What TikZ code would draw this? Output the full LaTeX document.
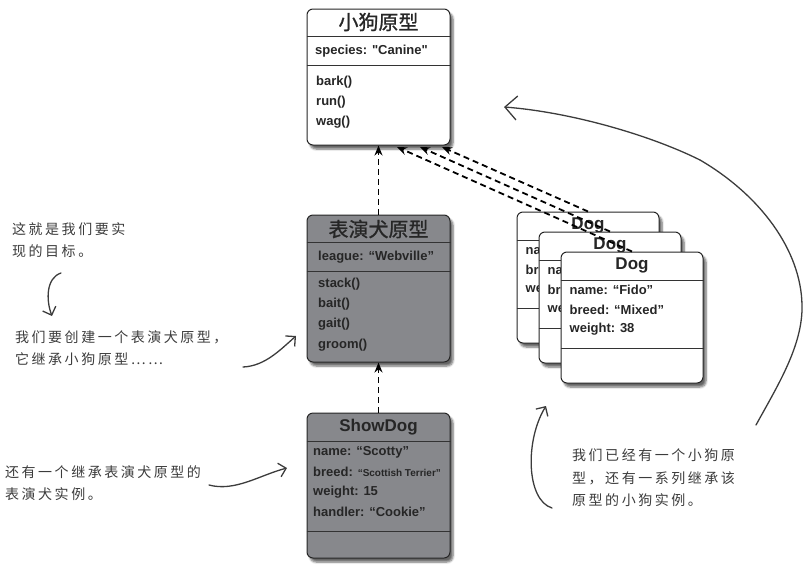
\documentclass[tikz,border=0pt]{standalone}
\usepackage{fontspec}
\setmainfont{Liberation Sans}
\newfontfamily\umlfont{Liberation Sans}
\newfontfamily\cjk[FakeBold=1]{Noto Sans CJK SC}
\newfontfamily\hand[LetterSpace=18]{Noto Sans CJK SC}
\usetikzlibrary{calc,arrows.meta,shadows.blur}
\definecolor{showgray}{RGB}{135,136,140}
\definecolor{ink}{RGB}{60,60,60}
\tikzset{
  umlbox/.style={draw=black!85, line width=1pt, rounded corners=6pt, fill=white, inner sep=0pt,
    blur shadow={shadow xshift=3pt, shadow yshift=-4pt, shadow blur steps=6, shadow opacity=60}},
  divider/.style={draw=black!80, line width=1pt},
  boxtitle/.style={font=\cjk\fontsize{20}{22}\selectfont, text=black!85},
  classname/.style={font=\umlfont\bfseries\fontsize{17}{19}\selectfont, text=black!85, inner sep=0pt},
  field/.style={anchor=west, font=\umlfont\bfseries\fontsize{13}{15}\selectfont, text=black!85, inner sep=0pt},
  note/.style={anchor=north west, align=left, font=\hand\fontsize{14}{22.5}\selectfont, text=ink, inner sep=0pt},
  scrawl/.style={draw=ink, line width=1.3pt, line cap=round, -{Straight Barb[length=7pt,width=14pt]}},
  inherit/.style={dash pattern=on 6pt off 4pt, line width=1.8pt, -{Stealth[length=10pt,width=8pt]}}
}
\begin{document}
\begin{tikzpicture}[x=1pt,y=-1pt]
\useasboundingbox (0,0) rectangle (808,568);

\node[umlbox, minimum width=143pt, minimum height=136pt] (proto) at (378.5,77) {};
\node[boxtitle] (protoname) at (378.5,22) {小狗原型};
\draw[divider] ($(proto.north west)+(0,28)$) -- ($(proto.north east)+(0,28)$);
\node[field] (species) at (315,51) {species: "Canine"};
\draw[divider] ($(proto.north west)+(0,57)$) -- ($(proto.north east)+(0,57)$);
\node[field] (bark) at (316,82) {bark()};
\node[field] (run) at (316,102) {run()};
\node[field] (wag) at (316,122) {wag()};

\node[umlbox, fill=showgray, minimum width=143pt, minimum height=147pt] (perf) at (378.5,288.5) {};
\node[boxtitle] (perfname) at (378.5,229) {表演犬原型};
\draw[divider] ($(perf.north west)+(0,28)$) -- ($(perf.north east)+(0,28)$);
\node[field] (league) at (318,257) {league: “Webville”};
\draw[divider] ($(perf.north west)+(0,57)$) -- ($(perf.north east)+(0,57)$);
\node[field] (stack) at (318,284) {stack()};
\node[field] (bait) at (318,304) {bait()};
\node[field] (gait) at (318,324) {gait()};
\node[field] (groom) at (318,345) {groom()};

\node[umlbox, fill=showgray, minimum width=143pt, minimum height=145pt] (show) at (378.5,485.5) {};
\node[classname] (showname) at (378.5,427) {ShowDog};
\draw[divider] ($(show.north west)+(0,29)$) -- ($(show.north east)+(0,29)$);
\node[field] (scotty) at (313,452) {name: “Scotty”};
\node[field] (terrier) at (313,472) {breed: {\fontsize{10}{12}\selectfont“Scottish Terrier”}};
\node[field] (fifteen) at (313,492) {weight: 15};
\node[field] (cookie) at (313,512) {handler: “Cookie”};
\draw[divider] ($(show.north west)+(0,119)$) -- ($(show.north east)+(0,119)$);

\foreach \i/\cx/\cy in {1/588/277.5,2/610/297.5,3/632/317.5}{
  \node[umlbox, minimum width=142pt, minimum height=131pt] (dog\i) at (\cx,\cy) {};
  \node[classname] (dogname\i) at ($(dog\i.north)+(0,14)$) {Dog};
  \draw[divider] ($(dog\i.north west)+(0,28.5)$) -- ($(dog\i.north east)+(0,28.5)$);
  \node[field] (fido\i) at ($(dog\i.north west)+(9,38)$) {name: “Fido”};
  \node[field] (mixed\i) at ($(dog\i.north west)+(9,58)$) {breed: “Mixed”};
  \node[field] (weight\i) at ($(dog\i.north west)+(9,78)$) {weight: 38};
  \draw[divider] ($(dog\i.north west)+(0,97)$) -- ($(dog\i.north east)+(0,97)$);
}

\coordinate (tip1) at (442,147);
\coordinate (tip2) at (420,147);
\coordinate (tip3) at (397,147);
\draw[inherit] (perf.north) -- (proto.south);
\draw[inherit] (show.north) -- (perf.south);
\draw[inherit] (dog1.north) -- (tip1);
\draw[inherit] (dog2.north) -- (tip2);
\draw[inherit] (dog3.north) -- (tip3);

\node[note] (goal) at (12,222) {这就是我们要实\\现的目标。};
\node[note] (create) at (15,330) {我们要创建一个表演犬原型，\\它继承小狗原型……};
\node[note] (instance) at (5,465) {还有一个继承表演犬原型的\\表演犬实例。};
\node[note] (already) at (572,449) {我们已经有一个小狗原\\型，还有一系列继承该\\原型的小狗实例。};

\coordinate (s1) at (61,273);
\coordinate (e1) at (52,316);
\coordinate (s2) at (243,367);
\coordinate (e2) at (296,336);
\coordinate (s3) at (209,485);
\coordinate (e3) at (287,468);
\coordinate (s4) at (552,508);
\coordinate (e4) at (546,406);
\coordinate (s5) at (756,425);
\coordinate (e5) at (504,107);
\draw[scrawl] (s1) .. controls (46,278) and (46,300) .. (e1);
\draw[scrawl] (s2) .. controls (265,366) and (280,350) .. (e2);
\draw[scrawl] (s3) .. controls (235,492) and (260,475) .. (e3);
\draw[scrawl] (s4) .. controls (526,500) and (525,440) .. (e4);
\draw[draw=ink, line width=1.3pt, line cap=round] (s5) .. controls (778,385) and (803,345) .. (802,305)
  .. controls (801,250) and (760,195) .. (700,160);
\draw[scrawl, -{Straight Barb[length=12pt,width=24pt]}] (700,160) .. controls (650,135) and (570,112) .. (e5);
\end{tikzpicture}
\end{document}
